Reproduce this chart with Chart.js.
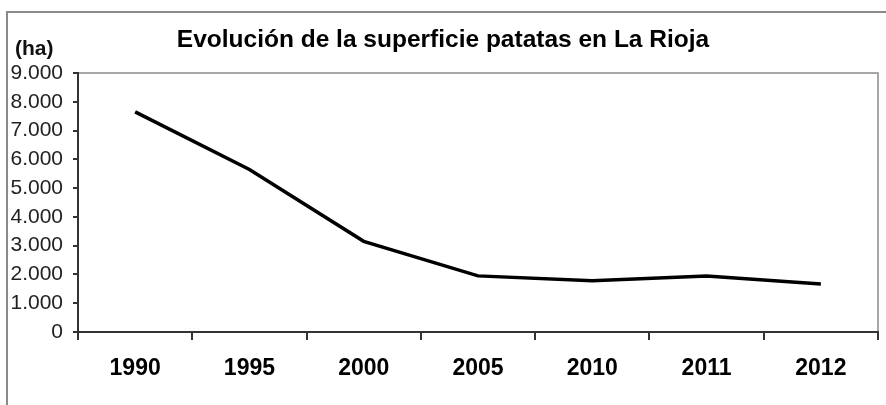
<!DOCTYPE html>
<html>
<head>
<meta charset="utf-8">
<script src="https://cdn.jsdelivr.net/npm/chart.js@4.4.1/dist/chart.umd.min.js"></script>
<style>
  html, body { margin: 0; padding: 0; background: #fff; }
  #wrap { width: 886px; height: 405px; position: relative; }
</style>
</head>
<body>
<div id="wrap"><canvas id="c" width="886" height="405"></canvas></div>
<script>
const categories = ["1990", "1995", "2000", "2005", "2010", "2011", "2012"];
const superficie = [7650, 5650, 3150, 1950, 1780, 1950, 1670];
const yTicks = [0, 1000, 2000, 3000, 4000, 5000, 6000, 7000, 8000, 9000];
const titleText = "Evolución de la superficie patatas en La Rioja";
const unitLabel = "(ha)";

const FONT = "'Liberation Sans', Arial, sans-serif";

const decor = {
  id: 'decor',
  beforeDraw(chart) {
    const ctx = chart.ctx;
    const a = chart.chartArea;
    ctx.save();
    ctx.fillStyle = '#fff';
    ctx.fillRect(0, 0, chart.width, chart.height);
    // outer frame
    ctx.strokeStyle = '#8a8a8a';
    ctx.lineWidth = 2;
    ctx.strokeRect(7, 12, chart.width + 10, chart.height + 10);
    // plot area frame (top/right)
    ctx.strokeStyle = '#8a8a8a';
    ctx.lineWidth = 1.5;
    ctx.strokeRect(a.left, a.top, a.right - a.left, a.bottom - a.top);
    // unit label
    ctx.fillStyle = '#111';
    ctx.font = "bold 21px " + FONT;
    ctx.textAlign = 'left';
    ctx.textBaseline = 'alphabetic';
    ctx.fillText(unitLabel, 15, 55);
    ctx.restore();
  }
};

new Chart(document.getElementById('c'), {
  type: 'line',
  data: {
    labels: categories,
    datasets: [{
      data: superficie,
      borderColor: '#000',
      borderWidth: 3.5,
      pointRadius: 0,
      tension: 0,
      fill: false
    }]
  },
  options: {
    responsive: false,
    animation: false,
    devicePixelRatio: 1,
    layout: { padding: { left: 8, right: 8, top: 0, bottom: 0 } },
    plugins: {
      legend: { display: false },
      tooltip: { enabled: false },
      title: {
        display: true,
        text: titleText,
        color: '#000',
        font: { family: FONT, size: 24.5, weight: 'bold', lineHeight: 1.2 },
        padding: { top: 26, bottom: 17.6 }
      }
    },
    scales: {
      x: {
        offset: true,
        grid: {
          offset: true,
          drawOnChartArea: false,
          drawTicks: true,
          tickLength: 8,
          color: '#333',
          lineWidth: 2
        },
        border: { display: true, color: '#333', width: 2 },
        ticks: {
          color: '#000',
          font: { family: FONT, size: 23, weight: 'bold' },
          padding: 15,
          maxRotation: 0,
          autoSkip: false
        },
        afterFit(scale) { scale.height = 73; }
      },
      y: {
        min: 0,
        max: 9000,
        afterBuildTicks(scale) { scale.ticks = yTicks.map(v => ({ value: v })); },
        grid: {
          drawOnChartArea: false,
          drawTicks: true,
          tickLength: 5,
          color: '#333',
          lineWidth: 2
        },
        border: { display: true, color: '#333', width: 2 },
        ticks: {
          color: '#222',
          font: { family: FONT, size: 21 },
          padding: 10,
          callback(v) { return v === 0 ? '0' : v.toLocaleString('de-DE'); }
        },
        afterFit(scale) { scale.width = 70; }
      }
    }
  },
  plugins: [decor]
});
</script>
</body>
</html>
